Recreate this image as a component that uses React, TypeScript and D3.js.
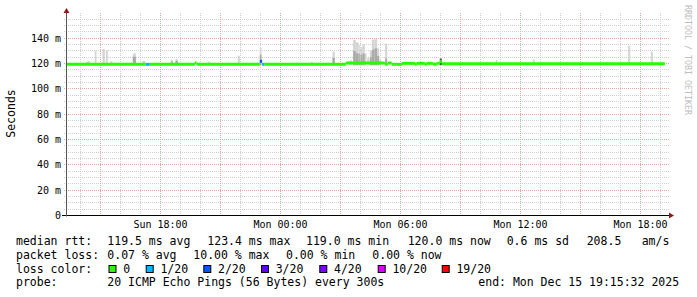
import React from "react";
import * as d3 from "d3";

// ---------- data ----------
const START = "Sun 13:15:32";
const END = "Mon 19:15:32";

// median rtt segments: start time, median (ms), lost pings (of 20)
const medianStarts = [
  "Sun 13:15", "Sun 17:15", "Sun 17:27", "Sun 19:42", "Sun 19:47", "Sun 22:57", "Sun 23:04", "Sun 23:10",
  "Mon 03:15", "Mon 05:12", "Mon 05:21", "Mon 05:33", "Mon 05:48", "Mon 06:03", "Mon 06:42", "Mon 06:48",
  "Mon 07:12", "Mon 07:18", "Mon 07:36", "Mon 07:48", "Mon 07:57", "Mon 08:03",
];
const medianEnd = "Mon 19:12";
const medianValues = [
  119.4, 119.4, 119.4, 120.6, 119.4, 121.8, 119.4, 119.4,
  120.4, 119.6, 120.4, 119.5, 119.4, 120.2, 119.6, 120.2,
  119.6, 120.2, 119.6, 120.2, 121.6, 119.9,
];
const medianLoss = [0, 1, 0, 0, 0, 2, 1, 0, 0, 0, 0, 0, 0, 0, 0, 0, 0, 0, 0, 0, 0, 0];

// smoke (ping spread) spikes: start time, duration (min), top (ms), dense inner top (ms, 0 = none)
const smokeTimes = [
  "Sun 14:15", "Sun 14:21", "Sun 14:42", "Sun 15:05", "Sun 15:15", "Sun 15:29", "Sun 16:36", "Sun 17:05",
  "Sun 18:30", "Sun 18:44", "Sun 20:21", "Sun 21:51", "Sun 22:57", "Mon 00:45", "Mon 01:30", "Mon 02:35",
  "Mon 03:27", "Mon 03:37", "Mon 03:45", "Mon 03:53", "Mon 03:59", "Mon 04:05", "Mon 04:12", "Mon 04:19",
  "Mon 04:27", "Mon 04:33", "Mon 04:41", "Mon 04:49", "Mon 04:55", "Mon 05:13", "Mon 07:57", "Mon 10:45",
  "Mon 12:36", "Mon 16:31", "Mon 17:22", "Mon 18:30",
];
const smokeMinutes = [6, 6, 5, 7, 6, 6, 9, 8, 6, 7, 6, 6, 5, 6, 6, 7, 6, 8, 8, 4, 6, 7, 5, 6, 6, 8, 8, 6, 6, 6, 6, 5, 5, 5, 6, 6];
const smokeTop = [
  121.5, 122.0, 130.2, 131.5, 130.7, 122.0, 128.1, 122.0,
  123.1, 123.6, 121.5, 126.2, 132.5, 120.8, 121.5, 129.4,
  122.8, 138.6, 136.8, 134.7, 133.1, 135.2, 128.1, 124.2,
  129.9, 138.9, 139.4, 132.1, 122.8, 135.7, 124.0, 122.8,
  123.4, 121.0, 134.1, 129.4,
];
const smokeInner = [
  0, 0, 0, 0, 0, 0, 125.4, 0,
  121.5, 122.0, 0, 0, 127.0, 0, 0, 124.5,
  0, 130.0, 128.0, 128.0, 127.0, 128.0, 0, 0,
  125.0, 131.0, 132.0, 126.0, 0, 124.0, 124.0, 0,
  0, 0, 0, 0,
];

// y axis
const yMax = 158;
const yMinorStep = 5;
const yMajorStep = 20;

// legend
const rowLabels = ["median rtt:", "packet loss:", "loss color:", "probe:"];
const rttStats = ["119.5 ms avg", "123.4 ms max", "119.0 ms min", "120.0 ms now", "0.6 ms sd", "208.5", "am/s"];
const lossStats = ["0.07 % avg", "10.00 % max", "0.00 % min", "0.00 % now"];
const lossThresholds = [0, 1, 2, 3, 4, 10, 19];
const lossLabels = ["0", "1/20", "2/20", "3/20", "4/20", "10/20", "19/20"];
const lossColors = ["#26ff00", "#00b8ff", "#0059ff", "#5e00ff", "#7e00ff", "#dd00ff", "#ff0000"];
const probeText = "20 ICMP Echo Pings (56 Bytes) every 300s";
const endText = "end: Mon Dec 15 19:15:32 2025";
const yTitle = "Seconds";
const watermark = "RRDTOOL / TOBI OETIKER";

// ---------- layout ----------
const W = 697;
const H = 297;
const X0 = 66;
const X1 = 666;
const Y0 = 215.5;
const Y1 = 15.5;
const rttX = [107.3, 207.3, 306, 407.7, 506.7, 586.7, 641.7];
const lossX = [107.3, 193.3, 286, 372.3];
const boxX = [108.5, 145.7, 203.3, 261, 319.3, 377.7, 441.7];
const rowY = [245.3, 258.8, 272.5, 286.2];
const mono = "'DejaVu Sans Mono', monospace";

function parseT(s: string): Date {
  const [day, hm] = s.split(" ");
  const p = hm.split(":").map(Number);
  return new Date(2025, 11, day === "Sun" ? 14 : 15, p[0], p[1], p[2] || 0);
}

function lossColor(n: number): string {
  let c = lossColors[0];
  lossThresholds.forEach((t, i) => {
    if (n >= t) c = lossColors[i];
  });
  return c;
}

export default function App() {
  const start = parseT(START);
  const end = parseT(END);
  const x = d3.scaleTime().domain([start, end]).range([X0, X1]);
  const y = d3.scaleLinear().domain([0, yMax]).range([Y0, Y1]);
  const crisp = (v: number) => Math.floor(v) + 0.5;

  const hours = d3.timeHour.range(d3.timeHour.ceil(start), end);
  const yMinor = d3.range(0, yMax, yMinorStep).filter((v) => v % yMajorStep !== 0);
  const yMajor = d3.range(0, yMax, yMajorStep);

  const line = d3
    .line<[Date, number]>()
    .x((d) => x(d[0]))
    .y((d) => y(d[1]));

  const medEnds = medianStarts.slice(1).concat([medianEnd]);

  return (
    <svg width={W} height={H} style={{ display: "block", position: "absolute", left: 0, top: 0, background: "#fff" }}>
      <rect x={0} y={0} width={W} height={H} fill="#ffffff" />

      {/* minor horizontal grid */}
      {yMinor.map((v) => (
        <line key={"ym" + v} x1={X0 - 2} x2={X1 + 3} y1={crisp(y(v))} y2={crisp(y(v))}
          stroke="#cfcfcf" strokeWidth={1} strokeDasharray="1,1" />
      ))}
      {/* vertical grid */}
      {hours.map((h) => {
        const major = h.getHours() % 3 === 0;
        return (
          <line key={"vx" + +h} x1={crisp(x(h))} x2={crisp(x(h))} y1={13} y2={Y0}
            stroke={major ? "#eaa6a6" : "#cfcfcf"} strokeWidth={1} strokeDasharray="1,1" />
        );
      })}
      {/* major horizontal grid */}
      {yMajor.filter((v) => v > 0).map((v) => (
        <line key={"yM" + v} x1={X0 - 2} x2={X1 + 3} y1={crisp(y(v))} y2={crisp(y(v))}
          stroke="#eaa6a6" strokeWidth={1} strokeDasharray="1,1" />
      ))}

      {/* smoke */}
      {smokeTimes.map((t, i) => {
        const t0 = parseT(t);
        const t1 = d3.timeMinute.offset(t0, smokeMinutes[i]);
        const base = 118.8;
        const xa = x(t0);
        const w = x(t1) - xa;
        return (
          <g key={"s" + i}>
            <rect x={xa} width={w} y={y(smokeTop[i])} height={y(base) - y(smokeTop[i])} fill="#d4d4d4" />
            {smokeInner[i] > 0 && (
              <rect x={xa} width={w} y={y(smokeInner[i])} height={y(base) - y(smokeInner[i])}
                fill={smokeInner[i] === smokeTop[i] ? "#555555" : "#a9a9a9"} />
            )}
          </g>
        );
      })}

      {/* median line coloured by loss */}
      {medianStarts.map((t, i) => (
        <path key={"m" + i}
          d={line([[parseT(t), medianValues[i]], [parseT(medEnds[i]), medianValues[i]]]) || ""}
          stroke={lossColor(medianLoss[i])} strokeWidth={3} fill="none" />
      ))}

      {/* axes */}
      <line x1={X0 - 4} x2={X1 + 3} y1={Y0} y2={Y0} stroke="#000" strokeWidth={1} />
      <line x1={X0 + 0.5} x2={X0 + 0.5} y1={Y0 + 1} y2={12} stroke="#555" strokeWidth={1} />
      <path d={`M${X0 - 2.5},13 L${X0 + 3.5},13 L${X0 + 0.5},8 Z`} fill="#8b1c1c" />
      <path d={`M${X1 + 3},${Y0 - 3} L${X1 + 3},${Y0 + 3} L${X1 + 8},${Y0} Z`} fill="#8b1c1c" />

      {/* y labels */}
      {yMajor.map((v) => (
        <text key={"yl" + v} x={61} y={crisp(y(v)) + 3.5} textAnchor="end" fontFamily={mono} fontSize={10} fill="#000">
          {v === 0 ? "0" : `${v} m`}
        </text>
      ))}
      {/* x labels */}
      {hours.filter((h) => h.getHours() % 6 === 0).map((h) => (
        <text key={"xl" + +h} x={crisp(x(h))} y={228} textAnchor="middle" fontFamily={mono} fontSize={10} fill="#000">
          {d3.timeFormat("%a %H:%M")(h)}
        </text>
      ))}

      {/* y title */}
      <text transform="translate(14.8,113.5) rotate(-90)" textAnchor="middle" fontFamily={mono} fontSize={11.5} fill="#000">
        {yTitle}
      </text>
      {/* watermark */}
      <text transform="translate(684.5,5) rotate(90)" fontFamily={mono} fontSize={8.3} fill="#bdbdbd">
        {watermark}
      </text>

      {/* legend */}
      <g fontFamily={mono} fontSize={11.5} fill="#000" style={{ whiteSpace: "pre" }}>
        {rowLabels.map((l, i) => (
          <text key={"rl" + i} x={16} y={rowY[i]}>{l}</text>
        ))}
        {rttStats.map((s, i) => (
          <text key={"rt" + i} x={rttX[i]} y={rowY[0]}>{s}</text>
        ))}
        {lossStats.map((s, i) => (
          <text key={"ls" + i} x={lossX[i]} y={rowY[1]}>{s}</text>
        ))}
        {lossLabels.map((s, i) => (
          <g key={"lc" + i}>
            <rect x={boxX[i] + 0.5} y={265.5} width={7} height={7} fill={lossColors[i]} stroke="#000" strokeWidth={1} />
            <text x={boxX[i] + 14.7} y={rowY[2]}>{s}</text>
          </g>
        ))}
        <text x={107.3} y={rowY[3]}>{probeText}</text>
        <text x={478.3} y={rowY[3]}>{endText}</text>
      </g>
    </svg>
  );
}
